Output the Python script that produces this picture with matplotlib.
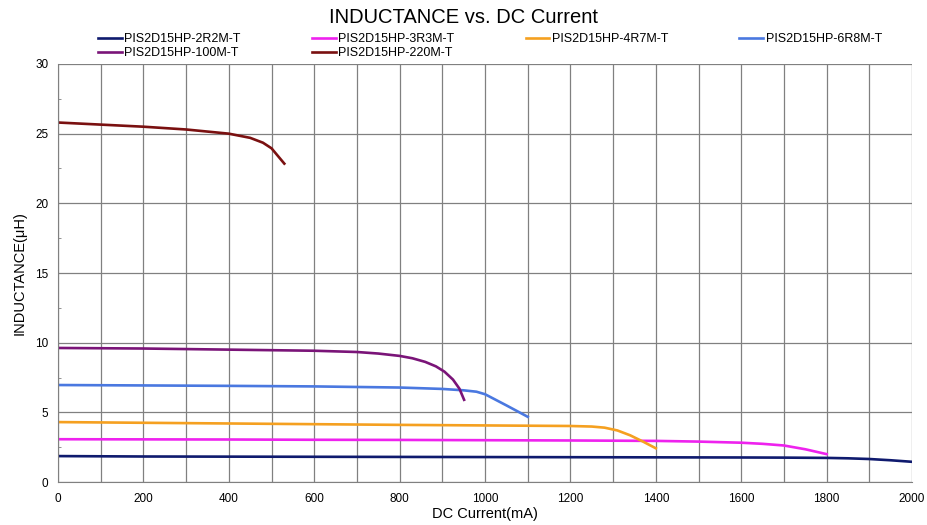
import matplotlib.pyplot as plt
import numpy as np

plt.rcParams['font.family'] = ['Liberation Sans', 'DejaVu Sans']

x_2r2 = [0, 200, 400, 600, 800, 1000, 1200, 1400, 1600, 1700, 1800, 1850, 1900, 1950, 2000]
y_2r2 = [1.86, 1.83, 1.82, 1.81, 1.80, 1.79, 1.78, 1.77, 1.76, 1.75, 1.73, 1.70, 1.65, 1.56, 1.45]

x_3r3 = [0, 200, 400, 600, 800, 1000, 1200, 1400, 1500, 1600, 1650, 1700, 1750, 1800]
y_3r3 = [3.07, 3.06, 3.05, 3.03, 3.02, 3.00, 2.98, 2.95, 2.90, 2.82, 2.74, 2.62, 2.35, 2.00]

x_4r7 = [0, 200, 400, 600, 800, 1000, 1200, 1250, 1280, 1310, 1340, 1370, 1400]
y_4r7 = [4.30, 4.25, 4.20, 4.15, 4.10, 4.06, 4.02, 3.98, 3.90, 3.70, 3.35, 2.90, 2.42]

x_6r8 = [0, 200, 400, 600, 800, 900, 950, 980, 1000, 1050, 1100]
y_6r8 = [6.96, 6.93, 6.90, 6.86, 6.78, 6.68, 6.58, 6.48, 6.30, 5.50, 4.68]

x_100 = [0, 200, 400, 600, 700, 750, 800, 830, 860, 885, 905, 925, 940, 951]
y_100 = [9.62, 9.58, 9.50, 9.42, 9.33, 9.22, 9.05, 8.88, 8.62, 8.30, 7.92, 7.35, 6.70, 5.90]

x_220 = [0, 100, 200, 300, 400, 450, 480, 500, 515, 530]
y_220 = [25.80, 25.65, 25.50, 25.30, 25.00, 24.70, 24.35, 23.95, 23.40, 22.85]

series = [
    ('PIS2D15HP-2R2M-T', x_2r2, y_2r2, '#0f1a6e'),
    ('PIS2D15HP-3R3M-T', x_3r3, y_3r3, '#ee22ee'),
    ('PIS2D15HP-4R7M-T', x_4r7, y_4r7, '#f5a020'),
    ('PIS2D15HP-6R8M-T', x_6r8, y_6r8, '#4a78e0'),
    ('PIS2D15HP-100M-T', x_100, y_100, '#7a1478'),
    ('PIS2D15HP-220M-T', x_220, y_220, '#7a1010'),
]

fig = plt.figure(figsize=(9.28, 5.25), dpi=100)
ax = fig.add_axes([0.0625, 0.0819, 0.9203, 0.7962])

lines = []
for name, xs, ys, c in series:
    ln, = ax.plot(xs, ys, color=c, lw=1.9, label=name)
    lines.append(ln)

ax.set_xlim(0, 2000)
ax.set_ylim(0, 30)
ax.set_xticks(np.arange(0, 2001, 200))
ax.set_xticks(np.arange(0, 2001, 100), minor=True)
ax.set_yticks(np.arange(0, 31, 5))
ax.set_yticks(np.arange(0, 31, 2.5), minor=True)
ax.grid(which='major', color='#808080', lw=0.9)
ax.grid(which='minor', axis='x', color='#808080', lw=0.9)
ax.tick_params(which='both', length=0, labelsize=8.5)
ax.tick_params(axis='x', pad=8)
ax.tick_params(axis='y', pad=7)
ax.tick_params(which='minor', axis='y', length=2.5, direction='in', color='#808080')
for s in ['top', 'right']:
    ax.spines[s].set_visible(False)
for s in ['left', 'bottom']:
    ax.spines[s].set_color('#808080')

ax.set_xlabel('DC Current(mA)', fontsize=10.5, labelpad=1)
ax.set_ylabel('INDUCTANCE(μH)', fontsize=10.5, labelpad=6)
fig.text(0.5, 0.967, 'INDUCTANCE vs. DC Current', fontsize=14.5, ha='center', va='center')

# legend filled row by row: 4 columns, 6 entries
order = [0, 4, 1, 5, 2, 3]
fig.legend([lines[i] for i in order], [series[i][0] for i in order],
           loc='upper left', bbox_to_anchor=(0.099, 0.949), ncol=4, frameon=False,
           fontsize=9, handlelength=1.9, handletextpad=0.2, columnspacing=5.7,
           labelspacing=0.15, borderpad=0)

fig.savefig('out.png', dpi=100)
